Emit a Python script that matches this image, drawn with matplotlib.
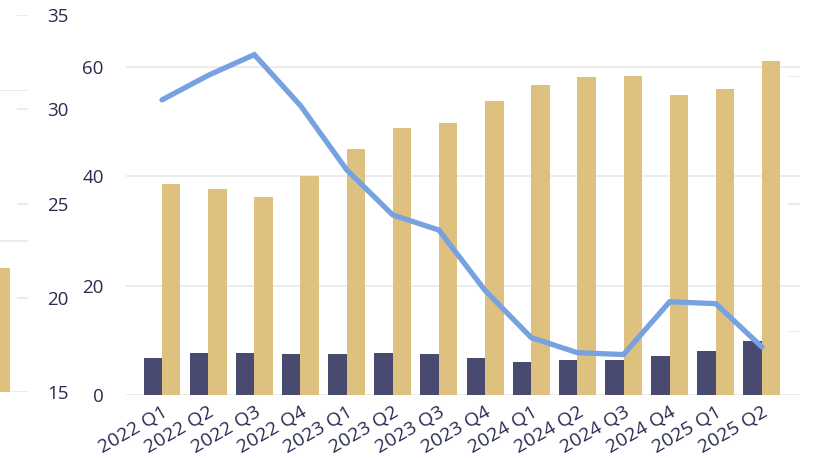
import matplotlib
matplotlib.use("Agg")
import matplotlib.pyplot as plt
import numpy as np

plt.rcParams['font.family'] = ['Open Sans', 'DejaVu Sans']

quarters = ["2022 Q1", "2022 Q2", "2022 Q3", "2022 Q4",
            "2023 Q1", "2023 Q2", "2023 Q3", "2023 Q4",
            "2024 Q1", "2024 Q2", "2024 Q3", "2024 Q4",
            "2025 Q1", "2025 Q2"]
dark_values = [6.8, 7.7, 7.7, 7.5, 7.5, 7.7, 7.5, 6.8, 6.0, 6.4, 6.4, 7.1, 8.0, 9.9]
gold_values = [38.5, 37.6, 36.2, 40.0, 44.9, 48.8, 49.7, 53.7, 56.6, 58.1, 58.3, 54.8, 55.9, 61.0]
line_values = [30.5, 31.8, 32.9, 30.2, 26.8, 24.4, 23.6, 20.4, 17.9, 17.1, 17.0, 19.8, 19.7, 17.4]
main_ticks = [0, 20, 40, 60]
pct_ticks = [15, 20, 25, 30, 35]
side_ticks = [0, 20, 40]
side_bar = [16.4]

DARK = "#484a6f"
GOLD = "#dfc17f"
LINE = "#77a1e0"
GRID = "#ebebeb"
TEXT = "#282b52"

W, H = 817, 458
fig = plt.figure(figsize=(W / 100, H / 100), dpi=100)


def box(x0, x1, ytop, ybot):
    return [x0 / W, 1 - ybot / H, (x1 - x0) / W, (ybot - ytop) / H]


def clean(ax):
    for s in ax.spines.values():
        s.set_visible(False)
    ax.patch.set_alpha(0)
    ax.tick_params(length=0)


# small partial chart at the far left
ax_side = fig.add_axes(box(0, 28, 90, 391.7))
clean(ax_side)
ax_side.set_xlim(0, 2.8)
ax_side.set_ylim(0, 40)
ax_side.set_yticks(side_ticks)
ax_side.set_yticklabels([])
ax_side.set_xticks([])
ax_side.yaxis.grid(True, color=GRID, linewidth=1.3)
ax_side.set_axisbelow(True)
ax_side.bar([0], side_bar, width=2, color=GOLD)

# percentage scale
ax_pct = fig.add_axes(box(17, 28, 15, 392.3))
clean(ax_pct)
ax_pct.set_ylim(15, 35)
ax_pct.set_yticks(pct_ticks)
ax_pct.set_xticks([])
ax_pct.yaxis.tick_right()
ax_pct.yaxis.grid(True, color=GRID, linewidth=1.3)
ax_pct.tick_params(axis='y', labelsize=13.5, labelcolor=TEXT, pad=14)

# main bar chart
px_per_unit = (395 - 66.7) / 60
ax = fig.add_axes(box(126, 800, 0, 395))
clean(ax)
x = np.arange(len(quarters))
spacing = 46.15
ax.set_xlim((126 - 162) / spacing, (800 - 162) / spacing)
ax.set_ylim(0, 395 / px_per_unit)
ax.set_yticks(main_ticks)
ax.yaxis.grid(True, color=GRID, linewidth=1.3)
ax.set_axisbelow(True)
bw = 0.4
ax.bar(x - bw / 2, dark_values, width=bw, color=DARK, zorder=2)
ax.bar(x + bw / 2, gold_values, width=bw, color=GOLD, zorder=2)
ax.set_xticks(x)
ax.set_xticklabels(quarters, rotation=30, ha='right', va='top',
                   rotation_mode='anchor')
ax.tick_params(axis='y', labelsize=13.5, labelcolor=TEXT, pad=16)
ax.tick_params(axis='x', labelsize=14, labelcolor=TEXT, pad=6)

# line on the percentage scale
ax_line = fig.add_axes(box(126, 800, 15, 392.3), sharex=ax)
clean(ax_line)
ax_line.set_ylim(15, 35)
ax_line.set_yticks([])
ax_line.tick_params(axis='x', labelbottom=False)
ax_line.plot(x, line_values, color=LINE, linewidth=3.8,
             solid_capstyle='round', solid_joinstyle='miter', clip_on=False)

# short grid marks at the right edge
ax_right = fig.add_axes(box(788, 800, 76, 332))
clean(ax_right)
ax_right.set_ylim(0, 2)
ax_right.set_yticks([0, 1, 2])
ax_right.set_yticklabels([])
ax_right.set_xticks([])
ax_right.yaxis.grid(True, color=GRID, linewidth=1.3)

fig.savefig("out.png", dpi=100)
